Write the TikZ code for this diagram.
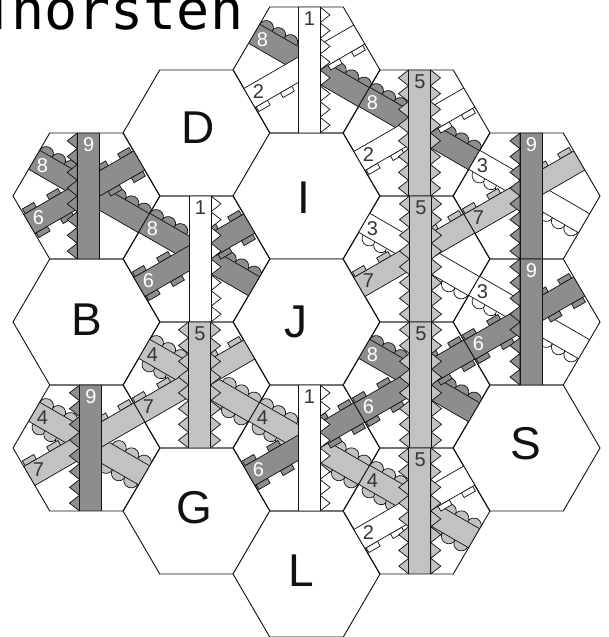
\documentclass[tikz,border=0pt]{standalone}
\usepackage{fontspec}
\setmainfont{Liberation Sans}
\newfontfamily\titlefont{DejaVu Sans Mono}
\definecolor{darkstrip}{HTML}{8E8C8C}
\definecolor{lightstrip}{HTML}{C2C2C2}
\definecolor{inkline}{HTML}{111111}
\tikzset{
  edgeline/.style={draw=inkline,line width=0.7pt,line join=miter},
  hexline/.style={draw=inkline,line width=0.9pt},
  letterlabel/.style={font=\fontsize{46}{46}\selectfont,text=inkline,inner sep=0pt},
  numdark/.style={font=\fontsize{20}{20}\selectfont,text=inkline!85,inner sep=0pt},
  numlight/.style={font=\fontsize{20}{20}\selectfont,text=white,inner sep=0pt},
  titlelabel/.style={font=\titlefont\fontsize{55}{55}\selectfont,inner sep=0pt,anchor=base west}
}
\newcommand\hexpath{(-73.5,0)--(-36.75,63)--(36.75,63)--(73.5,0)--(36.75,-63)--(-36.75,-63)--cycle}
% scallops along a falling strip
\newcommand\scallops[3]{\foreach \u in {#1}{\draw[edgeline,fill=#3] (\u,#2) circle (7.4);}}
\newcommand\scupper[1]{\scallops{-53,-39,-25,31,45.5,60}{11}{#1}}
\newcommand\sclower[1]{\scallops{-48,-34.5,-21,29,43.7,58}{-11}{#1}}
\newcommand\tabs[3]{\foreach \u in {-58,-30,25,52}{\draw[edgeline,fill=#3] (\u-6.5,#1) rectangle (\u+6.5,#2);}}
\newcommand\band[1]{\draw[edgeline,fill=#1] (-120,-11) rectangle (120,11);}
% falling strips: 3, 4, 8
\newcommand\fallthree{\begin{scope}[shift={(0,6)},rotate=-30]\sclower{white}\band{white}\end{scope}}
\newcommand\fallfour{\begin{scope}[shift={(0,6)},rotate=-30]\scupper{lightstrip}\sclower{lightstrip}\band{lightstrip}\end{scope}}
\newcommand\falleight{\begin{scope}[shift={(0,6)},rotate=-30]\scupper{darkstrip}\band{darkstrip}\end{scope}}
% rising strips: 2, 7, 6
\newcommand\risetwo{\begin{scope}[shift={(0,5)},rotate=30]\tabs{-11}{-16.5}{white}\band{white}\end{scope}}
\newcommand\riseseven{\begin{scope}[shift={(0,5)},rotate=30]\tabs{11}{16.5}{lightstrip}\band{lightstrip}\end{scope}}
\newcommand\risesix{\begin{scope}[shift={(0,5)},rotate=30]\tabs{11}{16.5}{darkstrip}\tabs{-11}{-16.5}{darkstrip}\band{darkstrip}\end{scope}}
% teeth: side (+1 or -1), colour
\newcommand\teeth[2]{\foreach \k in {0,...,7}{
  \draw[edgeline,fill=#2] (#1*11,63-\k*15.75) -- (#1*21,63-\k*15.75-7.875) -- (#1*11,63-\k*15.75-15.75) -- cycle;}}
\newcommand\vband[1]{\draw[edgeline,fill=#1] (-11,-64) rectangle (11,64);}
\newcommand\vertone{\teeth{1}{white}\vband{white}}
\newcommand\vertfive{\teeth{1}{lightstrip}\teeth{-1}{lightstrip}\vband{lightstrip}}
\newcommand\vertnine{\teeth{-1}{darkstrip}\vband{darkstrip}}
% #1 x, #2 y (image px), #3 vertical number, #4 falling number, #5 rising number, #6 vertical offset, #7 style of vertical digit, #8 falling digit style, #9 rising digit style
\newcommand\tile[9]{%
  \begin{scope}[shift={(#1,637-#2)}]
    \begin{scope}
      \clip \hexpath;
      \csname fall#4\endcsname
      \csname rise#5\endcsname
      \begin{scope}[xshift=#6 pt]\csname vert#3\endcsname\end{scope}
    \end{scope}
    \draw[hexline] \hexpath;
    \node[#7] at (#6+0.5,51) {\csname num#3\endcsname};
    \node[#8] at (-44,30) {\csname num#4\endcsname};
    \node[#9] at (-48,-22) {\csname num#5\endcsname};
  \end{scope}}
\newcommand\numone{1}\newcommand\numtwo{2}\newcommand\numthree{3}
\newcommand\numfour{4}\newcommand\numfive{5}\newcommand\numsix{6}
\newcommand\numseven{7}\newcommand\numeight{8}\newcommand\numnine{9}
\newcommand\blankhex[1]{\begin{scope}[shift={#1}]\draw[hexline,fill=white] \hexpath;\end{scope}}
\begin{document}
\begin{tikzpicture}[x=1pt,y=1pt]
  \useasboundingbox (0,0) rectangle (609,637);
  \clip (0,0) rectangle (609,637);
  \fill[white] (0,0) rectangle (609,637);
  \node[titlelabel] (title) at (-18,607.5) {T\kern-4pt horsten};
  % blank hexes
  \blankhex{(196.5,637-133)}
  \blankhex{(306.5,637-196)}
  \blankhex{(306.5,637-322)}
  \blankhex{(86.5,637-322)}
  \blankhex{(196.5,637-511)}
  \blankhex{(306.5,637-574)}
  \blankhex{(526.5,637-448)}
  % tiles
  \tile{306.5}{70}{one}{eight}{two}{2.5}{numdark}{numlight}{numdark}
  \tile{416.5}{133}{five}{eight}{two}{3}{numdark}{numlight}{numdark}
  \tile{526.5}{196}{nine}{three}{seven}{4.5}{numlight}{numdark}{numdark}
  \tile{86.5}{196}{nine}{eight}{six}{1.7}{numlight}{numlight}{numlight}
  \tile{196.5}{259}{one}{eight}{six}{3.5}{numdark}{numlight}{numlight}
  \tile{416.5}{259}{five}{three}{seven}{4}{numdark}{numdark}{numdark}
  \tile{526.5}{322}{nine}{three}{six}{4.5}{numlight}{numdark}{numlight}
  \tile{416.5}{385}{five}{eight}{six}{4}{numdark}{numlight}{numlight}
  \tile{196.5}{385}{five}{four}{seven}{3}{numdark}{numdark}{numdark}
  \tile{86.5}{448}{nine}{four}{seven}{4}{numlight}{numdark}{numdark}
  \tile{306.5}{448}{one}{four}{six}{2.5}{numdark}{numdark}{numlight}
  \tile{416.5}{511}{five}{four}{two}{3.3}{numdark}{numdark}{numdark}
  % letters
  \node[letterlabel] (D) at (198,637-128) {D};
  \node[letterlabel] (I) at (304,637-198) {I};
  \node[letterlabel] (J) at (296,637-322) {J};
  \node[letterlabel] (B) at (87,637-320) {B};
  \node[letterlabel] (G) at (194,637-508) {G};
  \node[letterlabel] (L) at (301,637-571) {L};
  \node[letterlabel] (S) at (526,637-444) {S};
\end{tikzpicture}
\end{document}
